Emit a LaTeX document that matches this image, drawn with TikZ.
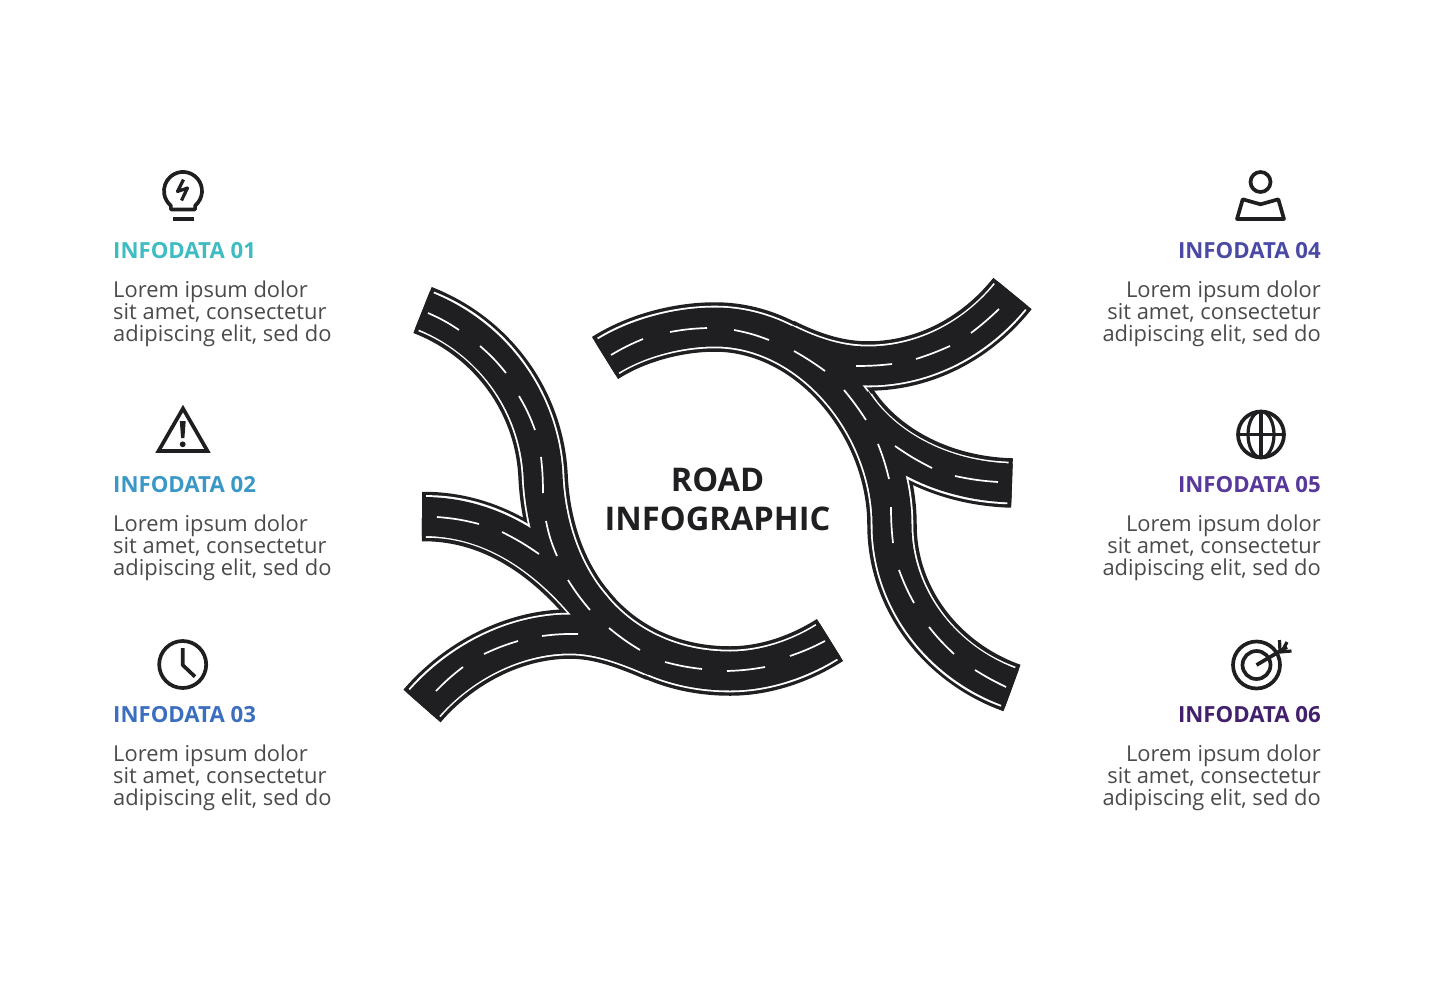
\documentclass[tikz,border=0pt]{standalone}
\usepackage{fontspec}
\setmainfont{Open Sans}
\usetikzlibrary{positioning,calc}
\definecolor{asphalt}{HTML}{1F1F22}
\definecolor{bodygray}{HTML}{4A4A4C}
\definecolor{info1}{HTML}{3FBCC2}
\definecolor{info2}{HTML}{3A97C6}
\definecolor{info3}{HTML}{3C6EC0}
\definecolor{info4}{HTML}{4A4AA6}
\definecolor{info5}{HTML}{58389A}
\definecolor{info6}{HTML}{42206C}

\def\roadnw{(422.5,310) .. controls (492,337) and (539,401) .. (543,475) .. controls (548,590) and (622,671) .. (730,671) .. controls (765,671) and (800,659) .. (830,640)}
\def\roadw{(422,516.5) .. controls (498,516) and (555,562) .. (598,617)}
\def\roadsw{(422,706) .. controls (458,664) and (513,634) .. (570,634) .. controls (600,634) and (628,645) .. (656,657)}
\def\roadse{(605,358) .. controls (638,337) and (680,327) .. (715,327) .. controls (812,327) and (892,425) .. (892,525) .. controls (892,599) and (942,663) .. (1012,688)}
\def\roadne{(1012.5,293.5) .. controls (977,338) and (925,366) .. (868,366) .. controls (840,366) and (813,358) .. (783,343)}
\def\roade{(1012,483) .. controls (938,481) and (880,446) .. (852,402)}

\begin{document}
\begin{tikzpicture}[x=1pt,y=-1pt]
\tikzstyle{roadbase} = [draw=asphalt,line width=49.5pt]
\tikzstyle{roadedge} = [draw=white,line width=42.6pt,shorten >=4pt,shorten <=4pt]
\tikzstyle{roadfill} = [draw=asphalt,line width=39pt]
\tikzstyle{lanemark} = [draw=white,line width=1.7pt]
\tikzstyle{icon} = [draw=asphalt,line width=3.7pt,line join=round]
\tikzstyle{iconthin} = [icon,line width=3.2pt]
\tikzstyle{infohead} = [font=\fontsize{22.2pt}{24pt}\selectfont\bfseries,inner sep=0pt]
\tikzstyle{infotext} = [font=\fontsize{21.9pt}{22pt}\selectfont,text=bodygray,inner sep=0pt]

\useasboundingbox (0,0) rectangle (1435,980);

% roads
\foreach \rstyle in {roadbase,roadedge,roadfill}
  \foreach \rpath in {\roadnw,\roadw,\roadsw,\roadse,\roadne,\roade}
    \draw[\rstyle] \rpath;

% lane marks
\foreach \xa/\ya/\xb/\yb/\bn in {428/313/459/330/5, 480/346/506/373/5, 519/396/535/430/5, 541/457/543/493/3,
  546/521/557/556/-6, 568/580/590/610/-4, 609/628/640/650/-4, 665/662/702/669/-4, 727/671/765/667/-4, 790/656/825/641/-4,
  437/517/479/524/5, 502/532/539/554/4, 436/691/463/667/4, 484/654/518/641/4, 542/636/578/634/4,
  611/355/643/339/4, 670/332/707/328/4, 734/330/769/340/5, 794/351/825/371/3, 844/390/866/420/3, 878/444/889/479/4,
  891/507/893/543/-3, 899/570/914/603/-4, 929/627/954/654/-4, 975/670/1006/687/-3,
  999/309/971/333/3, 950/346/916/359/3, 892/364/856/366/3, 998/482/955/476/4, 932/468/895/446/4}
  \draw[lanemark] (\xa,\ya) to[bend left=\bn] (\xb,\yb);

% title
\node[font=\fontsize{32.6pt}{39pt}\selectfont\bfseries,text=asphalt,align=center] (title) at (717.5,499) {ROAD\\INFOGRAPHIC};

% left column
\node[infohead,text=info1,anchor=west] (head1) at (113,250.5) {INFODATA 01};
\node[infotext,align=left,below right=22pt and 0pt of head1.south west] (text1) {Lorem ipsum dolor\\sit amet, consectetur\\adipiscing elit, sed do};
\node[infohead,text=info2,anchor=west] (head2) at (113,484.5) {INFODATA 02};
\node[infotext,align=left,below right=21.5pt and 0pt of head2.south west] (text2) {Lorem ipsum dolor\\sit amet, consectetur\\adipiscing elit, sed do};
\node[infohead,text=info3,anchor=west] (head3) at (113,714.5) {INFODATA 03};
\node[infotext,align=left,below right=21.5pt and 0pt of head3.south west] (text3) {Lorem ipsum dolor\\sit amet, consectetur\\adipiscing elit, sed do};

% right column
\node[infohead,text=info4,anchor=east] (head4) at (1321,250.5) {INFODATA 04};
\node[infotext,align=right,below left=22pt and 0pt of head4.south east] (text4) {Lorem ipsum dolor\\sit amet, consectetur\\adipiscing elit, sed do};
\node[infohead,text=info5,anchor=east] (head5) at (1321,484.5) {INFODATA 05};
\node[infotext,align=right,below left=21.5pt and 0pt of head5.south east] (text5) {Lorem ipsum dolor\\sit amet, consectetur\\adipiscing elit, sed do};
\node[infohead,text=info6,anchor=east] (head6) at (1321,714.5) {INFODATA 06};
\node[infotext,align=right,below left=21.5pt and 0pt of head6.south east] (text6) {Lorem ipsum dolor\\sit amet, consectetur\\adipiscing elit, sed do};

% bulb
\draw[icon] (171,209.5) -- (195,209.5) -- (195.2,205.5) arc[start angle=50,end angle=-230,radius=19] -- cycle;
\draw[icon] (173,219) -- (194,219);
\draw[iconthin] (183.5,179.5) -- (177.5,191.5) -- (187.5,188) -- (181.5,200.5);

% warning
\draw[icon,line join=miter] (183,408.5) -- (207.5,451) -- (158.5,451) -- cycle;
\fill[asphalt] (179.8,421) -- (185.7,421) -- (184.4,438) -- (181.1,438) -- cycle;
\fill[asphalt] (182.7,444.3) circle[radius=2.9];

% clock
\draw[icon] (182.7,664.5) circle[radius=23.5];
\draw[icon] (182.7,648) -- (182.7,665) -- (195,676.7);

% person
\draw[icon] (1260.5,182) circle[radius=10];
\draw[icon] (1242.7,199.3) -- (1260.5,204.3) -- (1278.3,199.3) -- (1284,219) -- (1237,219) -- cycle;

% globe
\draw[icon] (1261,434.5) circle[radius=23];
\draw[iconthin] (1261,434.5) ellipse[x radius=13,y radius=23];
\draw[iconthin] (1261,411.5) -- (1261,457.5);
\draw[iconthin] (1238,434.5) -- (1284,434.5);

% target
\draw[icon] (1256.5,665) circle[radius=23.5];
\draw[icon] (1256.5,665) circle[radius=14];
\draw[icon] (1256.5,665) -- (1287,647);
\draw[iconthin] (1280,652) -- (1279.5,640);
\draw[iconthin] (1280,652) -- (1291.5,651);
\draw[iconthin] (1283,649.5) -- (1287,642);
\end{tikzpicture}
\end{document}
